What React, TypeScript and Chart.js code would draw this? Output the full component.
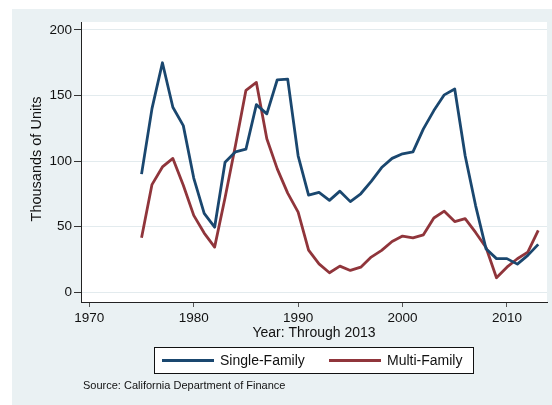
import React, { useEffect, useRef } from "react";
import { Chart, registerables } from "chart.js";

Chart.register(...registerables);

const years = [
  1975, 1976, 1977, 1978, 1979, 1980, 1981, 1982, 1983, 1984, 1985, 1986, 1987,
  1988, 1989, 1990, 1991, 1992, 1993, 1994, 1995, 1996, 1997, 1998, 1999, 2000,
  2001, 2002, 2003, 2004, 2005, 2006, 2007, 2008, 2009, 2010, 2011, 2012, 2013,
];

const singleFamily = [
  90, 140, 175, 141, 127, 87, 60, 49.5, 99, 107, 109, 143, 136, 162, 162.5, 104,
  74, 76, 70, 77, 69, 75, 84.5, 95, 102, 105.5, 107, 124.5, 138.5, 150.5, 155,
  104, 66, 33, 25.5, 25.5, 21.3, 28, 36.4,
];

const multiFamily = [
  41.5, 82, 95.5, 102, 81.5, 58.5, 45, 34.3, 72, 112, 154, 160, 117, 94, 75.5,
  61, 32, 21.5, 14.7, 19.8, 16.5, 19, 26.7, 31.8, 38.6, 42.7, 41.4, 43.7, 56.5,
  61.7, 53.8, 56, 45.5, 34, 10.9, 19, 25.4, 30.5, 47,
];

const seriesNames = ["Single-Family", "Multi-Family"];
const xTicks = [1970, 1980, 1990, 2000, 2010];
const yTicks = [0, 50, 100, 150, 200];
const xTitle = "Year: Through 2013";
const yTitle = "Thousands of Units";
const sourceNote = "Source: California Department of Finance";

const NAVY = "#1a476f";
const MAROON = "#90353b";
const BG = "#eaf1f3";
const GRID = "#e3ebee";
const FONT = "'Liberation Sans', Arial, Helvetica, sans-serif";

export default function App() {
  const ref = useRef<HTMLCanvasElement | null>(null);

  useEffect(() => {
    const canvas = ref.current;
    if (!canvas) return;

    const decor = {
      id: "decor",
      beforeDraw(chart: any) {
        const { ctx, chartArea } = chart;
        ctx.save();
        ctx.fillStyle = "#ffffff";
        ctx.fillRect(0, 0, chart.width, chart.height);
        ctx.fillStyle = BG;
        ctx.fillRect(12, 9, chart.width - 12, chart.height - 9);
        ctx.fillStyle = "#ffffff";
        ctx.fillRect(
          chartArea.left,
          chartArea.top,
          chartArea.right - chartArea.left,
          chartArea.bottom - chartArea.top
        );
        ctx.restore();
      },
      afterDraw(chart: any) {
        const { ctx, chartArea } = chart;
        const cx = (chartArea.left + chartArea.right) / 2;
        ctx.save();
        ctx.fillStyle = "#111";
        // x title
        ctx.font = `14px ${FONT}`;
        ctx.textAlign = "center";
        ctx.textBaseline = "middle";
        ctx.fillText(xTitle, cx, 333);
        // y title
        ctx.save();
        ctx.font = `14.5px ${FONT}`;
        ctx.translate(36.5, 159);
        ctx.rotate(-Math.PI / 2);
        ctx.fillText(yTitle, 0, 0);
        ctx.restore();
        // legend
        const boxL = cx - 159.5;
        const boxR = cx + 159.5;
        const boxT = 347.5;
        const boxB = 373.5;
        ctx.fillStyle = "#ffffff";
        ctx.fillRect(boxL, boxT, boxR - boxL, boxB - boxT);
        ctx.strokeStyle = "#111";
        ctx.lineWidth = 1;
        ctx.strokeRect(boxL, boxT, boxR - boxL, boxB - boxT);
        const ly = (boxT + boxB) / 2;
        const items = chart.data.datasets.map((d: any, i: number) => ({
          label: d.label,
          color: d.borderColor,
          x0: boxL + 7.5 + i * 167,
        }));
        items.forEach((it: any) => {
          ctx.strokeStyle = it.color;
          ctx.lineWidth = 3;
          ctx.beginPath();
          ctx.moveTo(it.x0, ly);
          ctx.lineTo(it.x0 + 52, ly);
          ctx.stroke();
          ctx.fillStyle = "#111";
          ctx.font = `14px ${FONT}`;
          ctx.textAlign = "left";
          ctx.textBaseline = "middle";
          ctx.fillText(it.label, it.x0 + 58, ly + 0.5);
        });
        // source
        ctx.font = `11px ${FONT}`;
        ctx.textAlign = "left";
        ctx.textBaseline = "middle";
        ctx.fillStyle = "#111";
        ctx.fillText(sourceNote, 83, 385.5);
        ctx.restore();
      },
    };

    const chart = new Chart(canvas, {
      type: "line",
      data: {
        datasets: [
          {
            label: seriesNames[0],
            data: years.map((y, i) => ({ x: y, y: singleFamily[i] })),
            borderColor: NAVY,
            backgroundColor: NAVY,
            borderWidth: 2.8,
            pointRadius: 0,
            tension: 0,
            borderJoinStyle: "round",
          },
          {
            label: seriesNames[1],
            data: years.map((y, i) => ({ x: y, y: multiFamily[i] })),
            borderColor: MAROON,
            backgroundColor: MAROON,
            borderWidth: 2.8,
            pointRadius: 0,
            tension: 0,
            borderJoinStyle: "round",
          },
        ],
      },
      options: {
        responsive: false,
        animation: false,
        devicePixelRatio: 1,
        layout: { padding: { top: 22, right: 5, left: 0, bottom: 0 } },
        plugins: {
          legend: { display: false },
          tooltip: { enabled: false },
          title: { display: false },
        },
        scales: {
          x: {
            type: "linear",
            min: 1969.2,
            max: 2013.84,
            afterFit(scale: any) {
              scale.height = 103;
            },
            afterBuildTicks(scale: any) {
              scale.ticks = xTicks.map((v) => ({ value: v }));
            },
            ticks: {
              color: "#111",
              font: { family: FONT, size: 13.5 },
              padding: 3,
              maxRotation: 0,
              autoSkip: false,
              callback: (v: any) => String(v),
            },
            grid: {
              drawOnChartArea: false,
              tickLength: 5,
              tickColor: "#555",
            },
            border: { display: true, color: "#222", width: 1 },
          },
          y: {
            type: "linear",
            min: -7.6,
            max: 206.1,
            afterFit(scale: any) {
              scale.width = 81;
            },
            afterBuildTicks(scale: any) {
              scale.ticks = yTicks.map((v) => ({ value: v }));
            },
            ticks: {
              color: "#111",
              font: { family: FONT, size: 13.5 },
              padding: 2,
              autoSkip: false,
              callback: (v: any) => String(v),
            },
            grid: {
              color: GRID,
              lineWidth: 1,
              tickLength: 7,
              tickColor: "#333",
            },
            border: { display: true, color: "#222", width: 1 },
          },
        },
      },
      plugins: [decor],
    });

    return () => chart.destroy();
  }, []);

  return (
    <div style={{ position: "fixed", left: 0, top: 0, width: 552, height: 405 }}>
      <canvas ref={ref} width={552} height={405} style={{ display: "block" }} />
    </div>
  );
}
